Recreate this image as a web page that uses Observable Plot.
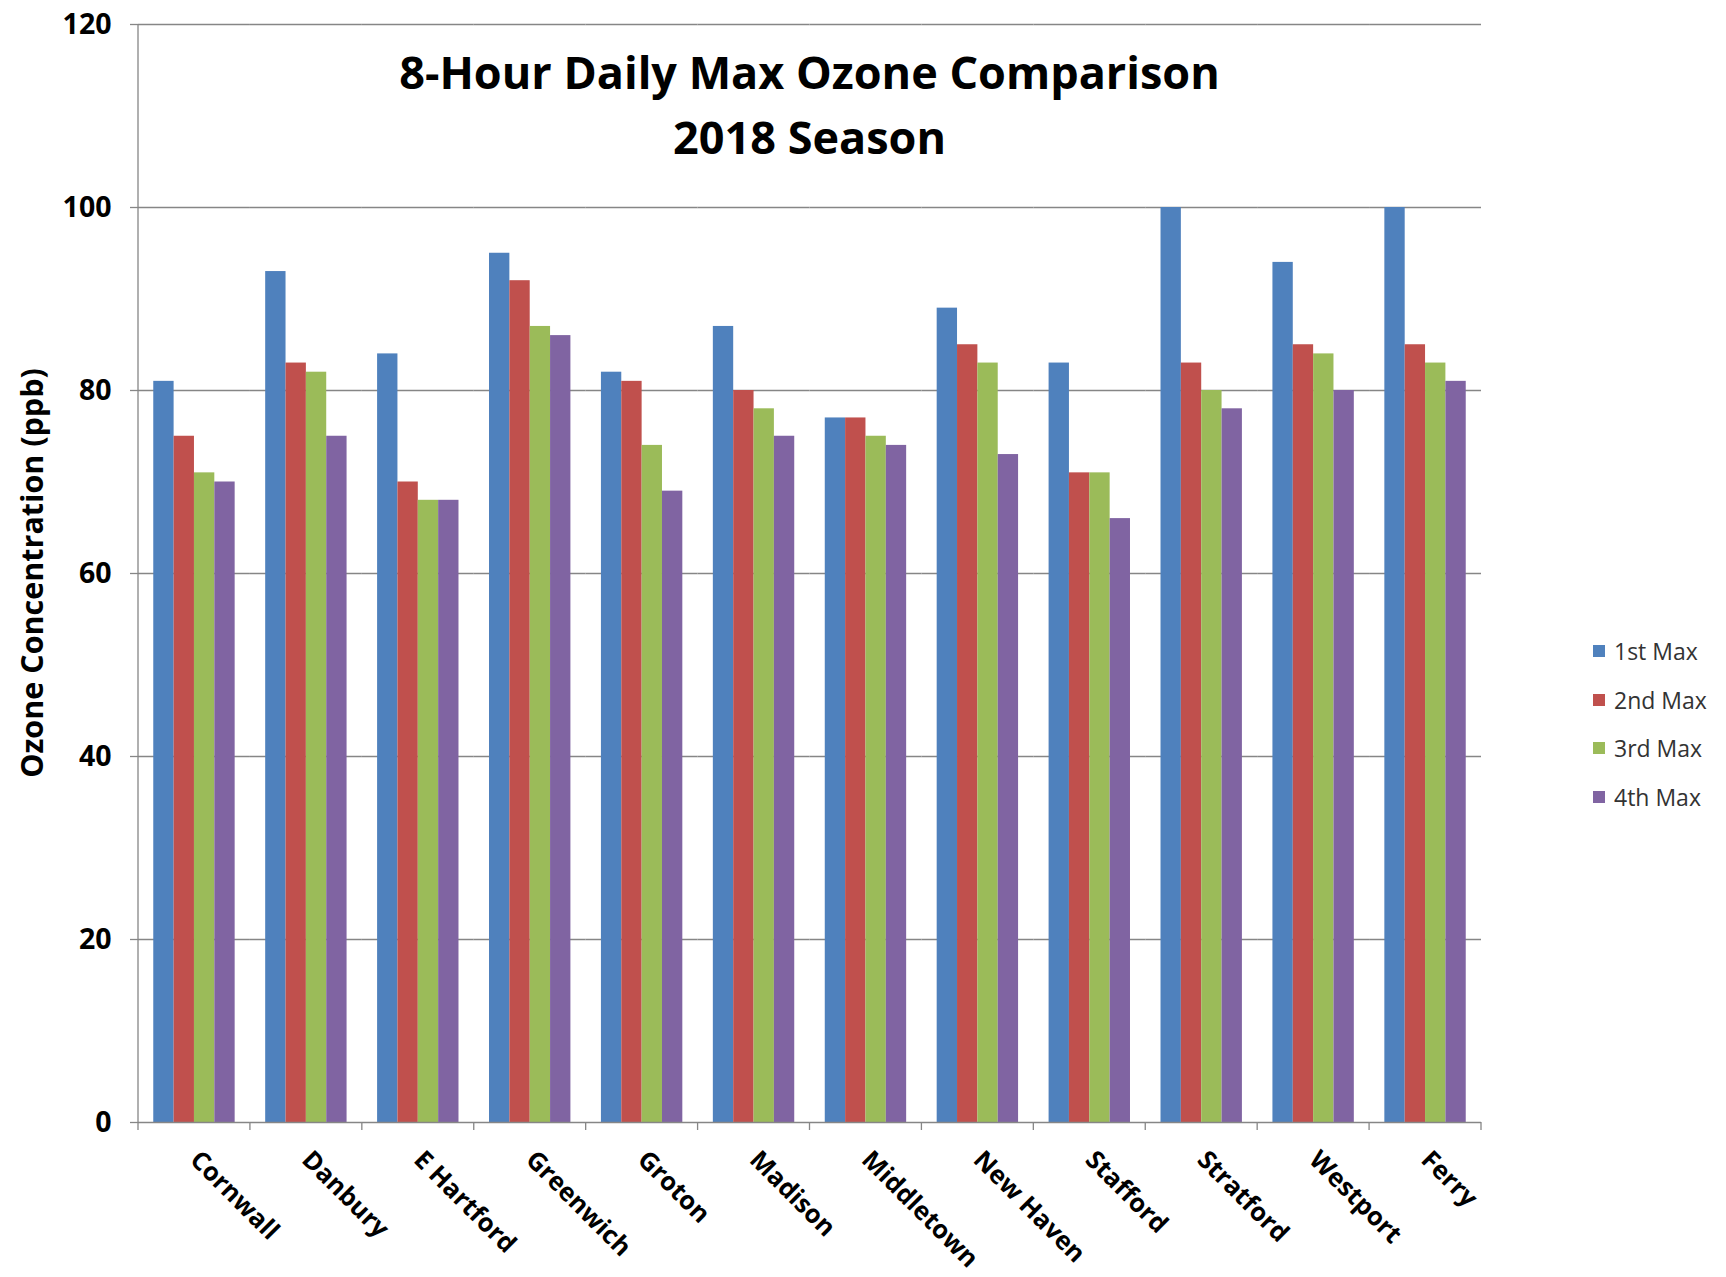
<!DOCTYPE html>
<html>
<head>
<meta charset="utf-8">
<script src="https://cdn.jsdelivr.net/npm/d3@7"></script>
<script src="https://cdn.jsdelivr.net/npm/@observablehq/plot@0.6"></script>
<style>
  html, body { margin: 0; padding: 0; background: #fff; }
  #wrap { position: relative; width: 1726px; height: 1277px; font-family: "Open Sans", sans-serif; }
  #title { position: absolute; left: 138px; width: 1343px; top: 39px; text-align: center;
           font-weight: bold; font-size: 45px; line-height: 65px; color: #000; }
  #ylabel { position: absolute; left: 31px; top: 573px; transform: translate(-50%, -50%) rotate(-90deg);
            white-space: nowrap; font-weight: bold; font-size: 30.5px; color: #000; }
  #legend { position: absolute; left: 1593px; top: 627px; font-size: 23px; color: #333; }
  #legend .row { display: flex; align-items: center; height: 48.5px; }
  #legend .sw { width: 12px; height: 12px; margin-right: 9px; }
</style>
</head>
<body>
<div id="wrap">
  <div id="chart"></div>
  <div id="title">8-Hour Daily Max Ozone Comparison<br>2018 Season</div>
  <div id="ylabel">Ozone Concentration (ppb)</div>
  <div id="legend"></div>
</div>
<script>
const sites = ["Cornwall","Danbury","E Hartford","Greenwich","Groton","Madison","Middletown","New Haven","Stafford","Stratford","Westport","Ferry"];
const seriesNames = ["1st Max","2nd Max","3rd Max","4th Max"];
const max1 = [81, 93, 84, 95, 82, 87, 77, 89, 83, 100, 94, 100];
const max2 = [75, 83, 70, 92, 81, 80, 77, 85, 71, 83, 85, 85];
const max3 = [71, 82, 68, 87, 74, 78, 75, 83, 71, 80, 84, 83];
const max4 = [70, 75, 68, 86, 69, 75, 74, 73, 66, 78, 80, 81];
const colors = ["#4F81BD", "#C0504D", "#9BBB59", "#8064A2"];
const yTicks = [0, 20, 40, 60, 80, 100, 120];

const seriesValues = [max1, max2, max3, max4];
const data = sites.flatMap((s, i) => seriesNames.map((n, j) => ({site: s, series: n, value: seriesValues[j][i]})));

const chart = Plot.plot({
  width: 1726,
  height: 1277,
  marginLeft: 138,
  marginRight: 245,
  marginTop: 24,
  marginBottom: 155,
  style: {fontFamily: "'Open Sans', sans-serif", background: "white", color: "#000", overflow: "visible"},
  fx: {domain: sites, padding: 0, round: false, label: null, tickRotate: 45, tickSize: 0, tickPadding: 33},
  x: {domain: seriesNames, paddingInner: 0, paddingOuter: 0.75, round: false, axis: null},
  y: {domain: [0, 120], ticks: yTicks, label: null, tickSize: 8, tickPadding: 19},
  color: {domain: seriesNames, range: colors},
  marks: [
    Plot.ruleY(yTicks.filter(d => d > 0), {stroke: "#868686", strokeWidth: 1.3}),
    Plot.barY(data, {fx: "site", x: "series", y: "value", fill: "series"}),
    Plot.ruleY([0], {stroke: "#868686", strokeWidth: 1.3})
  ]
});
document.getElementById("chart").appendChild(chart);

// axis text styling
const svg = d3.select(chart);
svg.selectAll("text").style("font-weight", "bold");
svg.selectAll('g[aria-label^="y-axis"] text, g[aria-label^="y-axis"] .tick text').style("font-size", "28.5px");
svg.selectAll('g[aria-label^="fx-axis"] text, g[aria-label^="fx-axis"] .tick text').style("font-size", "25.5px");
svg.selectAll('g[aria-label^="y-axis"] path, g[aria-label^="y-axis"] line').attr("stroke", "#868686").style("stroke-width", "1.3px");

// left axis line and category boundary ticks, placed with the plot's own scales
const fx = chart.scale("fx");
const y = chart.scale("y");
const y0 = y.apply(0), yTop = y.apply(120);
const x0 = fx.apply(sites[0]);
const bounds = sites.map(s => fx.apply(s)).concat([fx.apply(sites[sites.length - 1]) + fx.bandwidth]);
const g = svg.append("g").attr("stroke", "#868686").attr("stroke-width", 1.3);
g.append("line").attr("x1", x0).attr("x2", x0).attr("y1", yTop).attr("y2", y0);
g.selectAll(".bt").data(bounds).join("line")
  .attr("x1", d => d).attr("x2", d => d).attr("y1", y0).attr("y2", y0 + 8);

// legend
const legend = d3.select("#legend");
seriesNames.forEach((n, i) => {
  const row = legend.append("div").attr("class", "row");
  row.append("div").attr("class", "sw").style("background", colors[i]);
  row.append("span").text(n);
});
</script>
</body>
</html>
